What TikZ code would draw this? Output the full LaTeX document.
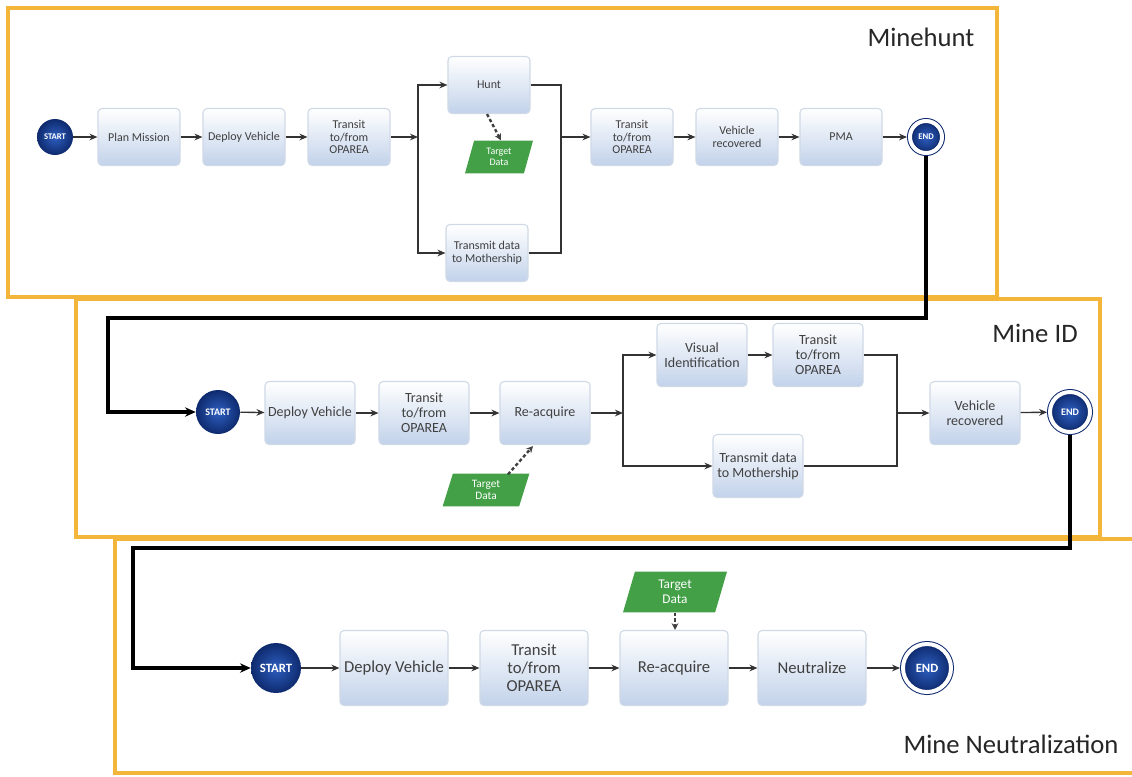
\documentclass[tikz,border=0pt]{standalone}
\usepackage{fontspec}
\setmainfont{Carlito}
\usetikzlibrary{arrows.meta,shapes.geometric,calc}
\definecolor{frameC}{HTML}{F3B63A}
\definecolor{boxbot}{HTML}{C2D2EA}
\definecolor{boxedge}{HTML}{D0D9E6}
\definecolor{txt}{HTML}{404040}
\definecolor{ballin}{HTML}{2E5FC0}
\definecolor{ballout}{HTML}{0E2A6E}
\definecolor{greenC}{HTML}{43A047}
\tikzset{
  frame/.style={draw=frameC, line width=2.4pt},
  title/.style={text=black!85, font=\fontsize{20}{24}\selectfont, inner sep=0pt},
  proc/.style={draw=boxedge, line width=0.8pt, rounded corners=3pt, top color=white, bottom color=boxbot, text=txt, align=center, inner sep=1pt},
  pa/.style={proc, minimum width=61.5pt, minimum height=42.75pt, font=\fontsize{9}{9.5}\selectfont},
  pb/.style={proc, minimum width=67.5pt, minimum height=47.25pt, font=\fontsize{10.5}{11.2}\selectfont},
  pc/.style={proc, minimum width=81pt, minimum height=56.25pt, font=\fontsize{12.5}{13.5}\selectfont},
  ball/.style={circle, inner color=ballin, outer color=ballout, text=white, inner sep=0pt},
  endball/.style={ball, draw=ballout, line width=0.75pt, double=white, double distance=3pt, outer sep=2.2pt},
  tdata/.style={trapezium, trapezium left angle=63, trapezium right angle=117, trapezium stretches body, fill=greenC, text=white, align=center, inner sep=0pt},
  conn/.style={draw=black!80, line width=1pt, -{Stealth[length=6pt,width=5pt]}},
  link/.style={draw=black!80, line width=1pt},
  big/.style={draw=black, line width=2.6pt, -{Stealth[length=8pt,width=7pt]}},
  dashedarrow/.style={draw=black!75, line width=1.8pt, dash pattern=on 2.5pt off 1.8pt, -{Stealth[length=5pt,width=5pt]}}
}
\begin{document}
\begin{tikzpicture}[x=0.75pt,y=-0.75pt]
\useasboundingbox (0,0) rectangle (1132,776);
% frames
\draw[frame] (8,8) rectangle (997,297);
\draw[frame] (76,299) rectangle (1100,537);
\draw[frame] (1140,539) -- (115,539) -- (115,773) -- (1140,773);
\node[title] (t1) at (921,37) {Minehunt};
\node[title] (t2) at (1035,333) {Mine ID};
\node[title] (t3) at (1011,744) {Mine Neutralization};

% ---------- Row 1: Minehunt ----------
\node[ball, minimum size=27pt, font=\bfseries\fontsize{6.5}{6.5}\selectfont] (s1) at (55,137) {START};
\node[pa] (pm) at (139,137) {Plan Mission};
\node[pa] (dv1) at (244,137) {Deploy Vehicle};
\node[pa] (tr1) at (349,137) {Transit\\to/from\\OPAREA};
\node[pa] (hunt) at (489,85) {Hunt};
\node[tdata, minimum width=51pt, minimum height=24.5pt, font=\fontsize{7.5}{8.5}\selectfont] (td1) at (499,157) {Target\\Data};
\node[pa] (tm1) at (487,253) {Transmit data\\to Mothership};
\node[pa] (tr1b) at (632,137) {Transit\\to/from\\OPAREA};
\node[pa] (vr1) at (737,137) {Vehicle\\recovered};
\node[pa] (pma) at (841,137) {PMA};
\node[endball, minimum size=24pt, font=\bfseries\fontsize{6.5}{6.5}\selectfont] (e1) at (926,137) {END};
\coordinate (j1) at (418,137);
\coordinate (k1) at (561,137);

\draw[conn] (s1) -- (pm);
\draw[conn] (pm) -- (dv1);
\draw[conn] (dv1) -- (tr1);
\draw[conn] (tr1) -- (j1);
\draw[conn] (j1) |- (hunt);
\draw[conn] (j1) |- (tm1);
\draw[link] (hunt) -| (k1);
\draw[link] (tm1) -| (k1);
\draw[conn] (k1) -- (tr1b);
\draw[conn] (tr1b) -- (vr1);
\draw[conn] (vr1) -- (pma);
\draw[conn] (pma) -- (e1);
\draw[dashedarrow] ($(hunt.south)+(-2,0)$) -- ($(td1.north)+(2,0)$);

% ---------- Row 2: Mine ID ----------
\node[ball, minimum size=33pt, font=\bfseries\fontsize{7.5}{7.5}\selectfont] (s2) at (218,412) {START};
\node[pb] (dv2) at (310,413) {Deploy Vehicle};
\node[pb] (tr2) at (424,413) {Transit\\to/from\\OPAREA};
\node[pb] (re2) at (545,413) {Re-acquire};
\node[pb] (vi) at (702,355) {Visual\\Identification};
\node[pb] (tr2b) at (818,355) {Transit\\to/from\\OPAREA};
\node[pb] (tm2) at (758,466) {Transmit data\\to Mothership};
\node[pb] (vr2) at (975,413) {Vehicle\\recovered};
\node[endball, minimum size=30pt, font=\bfseries\fontsize{7.5}{7.5}\selectfont] (e2) at (1070,412) {END};
\node[tdata, minimum width=65pt, minimum height=24.5pt, font=\fontsize{8.5}{9.5}\selectfont] (td2) at (486,490) {Target\\Data};
\coordinate (j2) at (623,413);
\coordinate (k2) at (897,413);

\draw[conn] (s2) -- (dv2);
\draw[conn] (dv2) -- (tr2);
\draw[conn] (tr2) -- (re2);
\draw[conn] (re2) -- (j2);
\draw[conn] (j2) |- (vi);
\draw[conn] (j2) |- (tm2);
\draw[conn] (vi) -- (tr2b);
\draw[link] (tr2b) -| (k2);
\draw[link] (tm2) -| (k2);
\draw[conn] (k2) -- (vr2);
\draw[conn] (vr2) -- (e2);
\draw[dashedarrow] ($(td2.north)+(22,1)$) -- ($(re2.south)+(-12,1)$);

% ---------- Row 3: Mine Neutralization ----------
\node[ball, minimum size=37.5pt, font=\bfseries\fontsize{9.5}{9.5}\selectfont] (s3) at (276,668) {START};
\node[pc] (dv3) at (394,668) {Deploy Vehicle};
\node[pc] (tr3) at (534,668) {Transit\\to/from\\OPAREA};
\node[pc] (re3) at (674,668) {Re-acquire};
\node[pc] (ne) at (812,668) {Neutralize};
\node[endball, minimum size=36pt, font=\bfseries\fontsize{9.5}{9.5}\selectfont] (e3) at (927,668) {END};
\node[tdata, minimum width=78pt, minimum height=30.5pt, font=\fontsize{10}{11}\selectfont] (td3) at (675,592) {Target\\Data};

\draw[conn] (s3) -- (dv3);
\draw[conn] (dv3) -- (tr3);
\draw[conn] (tr3) -- (re3);
\draw[conn] (re3) -- (ne);
\draw[conn] (ne) -- (e3);
\draw[dashedarrow] (td3.south) -- (td3.south |- re3.north);

% ---------- thick links between stages ----------
\coordinate (c1b) at (108,318);
\draw[big] (e1.south) |- (c1b) |- (s2.west);
\coordinate (c2b) at (133,548);
\draw[big] (e2.south) |- (c2b) |- (s3.west);
\end{tikzpicture}
\end{document}
